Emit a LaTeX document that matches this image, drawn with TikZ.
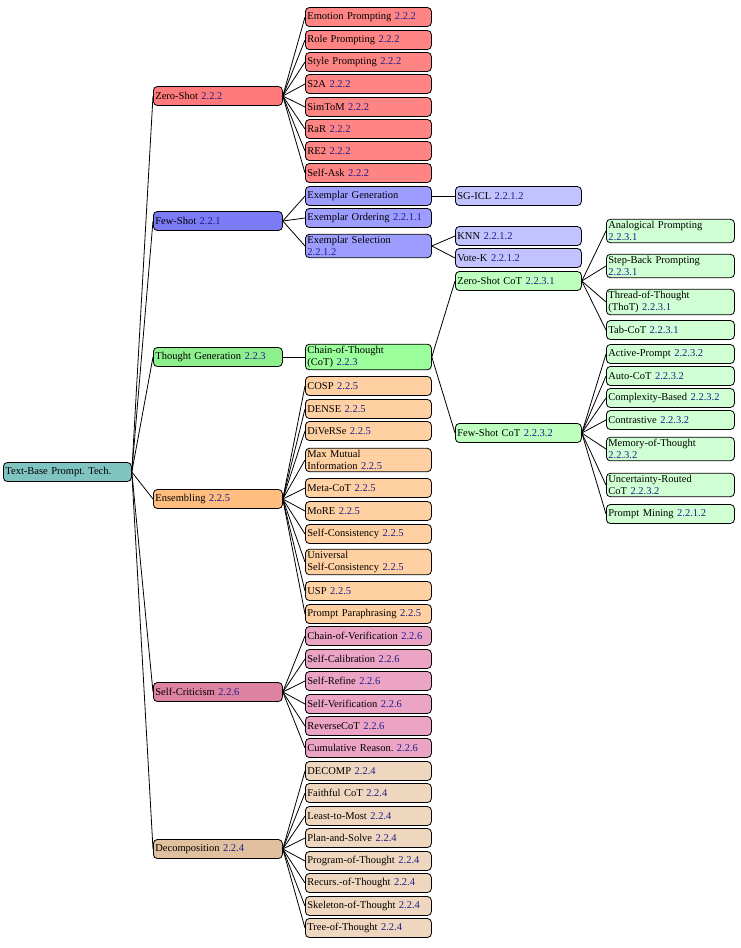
\documentclass[tikz,border=0pt]{standalone}
\usepackage{fontspec}
\setmainfont{Liberation Serif}
\usepackage{tikz}
\definecolor{numblue}{HTML}{1F1F8C}
\definecolor{rootc}{HTML}{7FC4C0}
\definecolor{zeroA}{HTML}{FF7A7A}
\definecolor{zeroB}{HTML}{FF8585}
\definecolor{fewA}{HTML}{7B7BF5}
\definecolor{fewB}{HTML}{9D9DFF}
\definecolor{fewC}{HTML}{C2C2FF}
\definecolor{thA}{HTML}{8DF08D}
\definecolor{thB}{HTML}{9BFF9B}
\definecolor{thC}{HTML}{BDFFBD}
\definecolor{thD}{HTML}{CFFFD3}
\definecolor{ensA}{HTML}{FFBE80}
\definecolor{ensB}{HTML}{FFD1A2}
\definecolor{crA}{HTML}{DE82A2}
\definecolor{crB}{HTML}{EBA4C4}
\definecolor{decA}{HTML}{E0C09E}
\definecolor{decB}{HTML}{EFD6BE}
\newcommand{\secnum}[1]{\textcolor{numblue}{#1}}
\tikzstyle{box} = [rectangle, rounded corners=4pt, draw=black, thick, anchor=west, align=left, inner sep=2pt, minimum height=19pt, font=\fontsize{10.5}{12}\selectfont]
\tikzstyle{lone} = [box, text width=125pt]
\tikzstyle{ltwo} = [box, text width=122pt]
\tikzstyle{lfour} = [box, text width=124pt]
\tikzstyle{link} = [thick]
\begin{document}
\begin{tikzpicture}[x=1pt, y=-1pt]
\useasboundingbox (0,0) rectangle (740,948);
% root and first level
\node (root) [box, fill=rootc, text width=124pt] at (3,472) {Text-Base Prompt.\ Tech.};
\node (zero) [lone, fill=zeroA] at (153,96) {Zero-Shot \secnum{2.2.2}};
\node (few) [lone, fill=fewA] at (153,221) {Few-Shot \secnum{2.2.1}};
\node (thought) [lone, fill=thA] at (153,357) {Thought Generation \secnum{2.2.3}};
\node (ens) [lone, fill=ensA] at (153,499) {Ensembling \secnum{2.2.5}};
\node (crit) [lone, fill=crA] at (153,692) {Self-Criticism \secnum{2.2.6}};
\node (dec) [lone, fill=decA] at (153,849) {Decomposition \secnum{2.2.4}};
% zero-shot
\node (z1) [ltwo, fill=zeroB] at (305,17) {Emotion Prompting \secnum{2.2.2}};
\node (z2) [ltwo, fill=zeroB] at (305,40) {Role Prompting \secnum{2.2.2}};
\node (z3) [ltwo, fill=zeroB] at (305,62) {Style Prompting \secnum{2.2.2}};
\node (z4) [ltwo, fill=zeroB] at (305,84) {S2A \secnum{2.2.2}};
\node (z5) [ltwo, fill=zeroB] at (305,107) {SimToM \secnum{2.2.2}};
\node (z6) [ltwo, fill=zeroB] at (305,129) {RaR \secnum{2.2.2}};
\node (z7) [ltwo, fill=zeroB] at (305,151) {RE2 \secnum{2.2.2}};
\node (z8) [ltwo, fill=zeroB] at (305,173) {Self-Ask \secnum{2.2.2}};
% few-shot
\node (f1) [ltwo, fill=fewB] at (305,196) {Exemplar Generation};
\node (f2) [ltwo, fill=fewB] at (305,218) {Exemplar Ordering \secnum{2.2.1.1}};
\node (f3) [ltwo, fill=fewB] at (305,246) {Exemplar Selection\\\secnum{2.2.1.2}};
\node (sgicl) [ltwo, fill=fewC] at (455,196) {SG-ICL \secnum{2.2.1.2}};
\node (knn) [ltwo, fill=fewC] at (455,236) {KNN \secnum{2.2.1.2}};
\node (votek) [ltwo, fill=fewC] at (455,258) {Vote-K \secnum{2.2.1.2}};
% thought generation
\node (cot) [ltwo, fill=thB] at (305,357) {Chain-of-Thought\\(CoT) \secnum{2.2.3}};
\node (zcot) [ltwo, fill=thC] at (455,281) {Zero-Shot CoT \secnum{2.2.3.1}};
\node (fcot) [ltwo, fill=thC] at (455,433) {Few-Shot CoT \secnum{2.2.3.2}};
\node (t1) [lfour, fill=thD] at (606,231) {Analogical Prompting\\\secnum{2.2.3.1}};
\node (t2) [lfour, fill=thD] at (606,266) {Step-Back Prompting\\\secnum{2.2.3.1}};
\node (t3) [lfour, fill=thD] at (606,302) {Thread-of-Thought\\(ThoT) \secnum{2.2.3.1}};
\node (t4) [lfour, fill=thD] at (606,330) {Tab-CoT \secnum{2.2.3.1}};
\node (t5) [lfour, fill=thD] at (606,354) {Active-Prompt \secnum{2.2.3.2}};
\node (t6) [lfour, fill=thD] at (606,376) {Auto-CoT \secnum{2.2.3.2}};
\node (t7) [lfour, fill=thD] at (606,398) {Complexity-Based \secnum{2.2.3.2}};
\node (t8) [lfour, fill=thD] at (606,420) {Contrastive \secnum{2.2.3.2}};
\node (t9) [lfour, fill=thD] at (606,449) {Memory-of-Thought\\\secnum{2.2.3.2}};
\node (t10) [lfour, fill=thD] at (606,485) {Uncertainty-Routed\\CoT \secnum{2.2.3.2}};
\node (t11) [lfour, fill=thD] at (606,514) {Prompt Mining \secnum{2.2.1.2}};
% ensembling
\node (e1) [ltwo, fill=ensB] at (305,386) {COSP \secnum{2.2.5}};
\node (e2) [ltwo, fill=ensB] at (305,409) {DENSE \secnum{2.2.5}};
\node (e3) [ltwo, fill=ensB] at (305,431) {DiVeRSe \secnum{2.2.5}};
\node (e4) [ltwo, fill=ensB] at (305,460) {Max Mutual\\Information \secnum{2.2.5}};
\node (e5) [ltwo, fill=ensB] at (305,488) {Meta-CoT \secnum{2.2.5}};
\node (e6) [ltwo, fill=ensB] at (305,511) {MoRE \secnum{2.2.5}};
\node (e7) [ltwo, fill=ensB] at (305,534) {Self-Consistency \secnum{2.2.5}};
\node (e8) [ltwo, fill=ensB] at (305,562) {Universal\\Self-Consistency \secnum{2.2.5}};
\node (e9) [ltwo, fill=ensB] at (305,591) {USP \secnum{2.2.5}};
\node (e10) [ltwo, fill=ensB] at (305,614) {Prompt Paraphrasing \secnum{2.2.5}};
% self-criticism
\node (c1) [ltwo, fill=crB] at (305,636) {Chain-of-Verification \secnum{2.2.6}};
\node (c2) [ltwo, fill=crB] at (305,659) {Self-Calibration \secnum{2.2.6}};
\node (c3) [ltwo, fill=crB] at (305,681) {Self-Refine \secnum{2.2.6}};
\node (c4) [ltwo, fill=crB] at (305,704) {Self-Verification \secnum{2.2.6}};
\node (c5) [ltwo, fill=crB] at (305,726) {ReverseCoT \secnum{2.2.6}};
\node (c6) [ltwo, fill=crB] at (305,748) {Cumulative Reason.\ \secnum{2.2.6}};
% decomposition
\node (d1) [ltwo, fill=decB] at (305,771) {DECOMP \secnum{2.2.4}};
\node (d2) [ltwo, fill=decB] at (305,793) {Faithful CoT \secnum{2.2.4}};
\node (d3) [ltwo, fill=decB] at (305,816) {Least-to-Most \secnum{2.2.4}};
\node (d4) [ltwo, fill=decB] at (305,838) {Plan-and-Solve \secnum{2.2.4}};
\node (d5) [ltwo, fill=decB] at (305,861) {Program-of-Thought \secnum{2.2.4}};
\node (d6) [ltwo, fill=decB] at (305,883) {Recurs.-of-Thought \secnum{2.2.4}};
\node (d7) [ltwo, fill=decB] at (305,906) {Skeleton-of-Thought \secnum{2.2.4}};
\node (d8) [ltwo, fill=decB] at (305,928) {Tree-of-Thought \secnum{2.2.4}};
% edges
\foreach \c in {zero,few,thought,ens,crit,dec} \draw [link] (root.east) -- (\c.west);
\foreach \c in {z1,z2,z3,z4,z5,z6,z7,z8} \draw [link] (zero.east) -- (\c.west);
\foreach \c in {f1,f2,f3} \draw [link] (few.east) -- (\c.west);
\draw [link] (f1.east) -- (sgicl.west);
\foreach \c in {knn,votek} \draw [link] (f3.east) -- (\c.west);
\draw [link] (thought.east) -- (cot.west);
\foreach \c in {zcot,fcot} \draw [link] (cot.east) -- (\c.west);
\foreach \c in {t1,t2,t3,t4} \draw [link] (zcot.east) -- (\c.west);
\foreach \c in {t5,t6,t7,t8,t9,t10,t11} \draw [link] (fcot.east) -- (\c.west);
\foreach \c in {e1,e2,e3,e4,e5,e6,e7,e8,e9,e10} \draw [link] (ens.east) -- (\c.west);
\foreach \c in {c1,c2,c3,c4,c5,c6} \draw [link] (crit.east) -- (\c.west);
\foreach \c in {d1,d2,d3,d4,d5,d6,d7,d8} \draw [link] (dec.east) -- (\c.west);
\end{tikzpicture}
\end{document}
